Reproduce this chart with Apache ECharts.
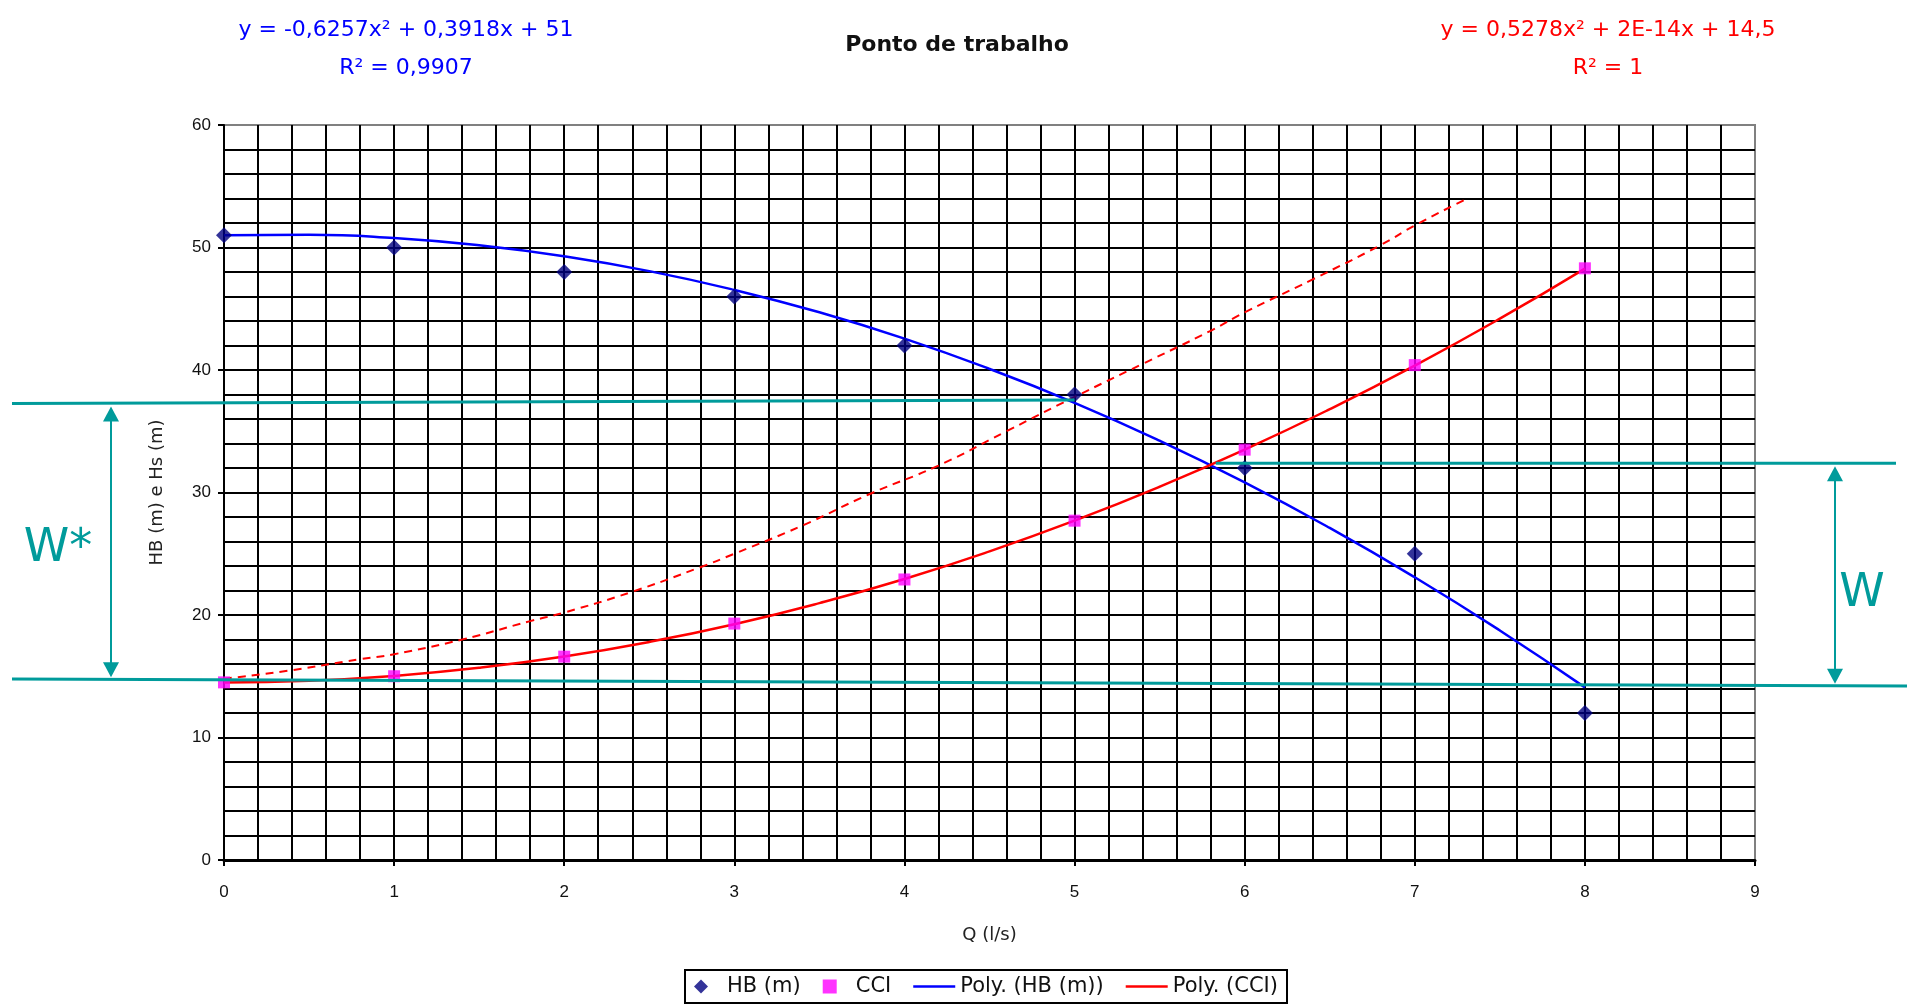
<!DOCTYPE html>
<html><head><meta charset="utf-8">
<script src="https://cdn.jsdelivr.net/npm/echarts@6/dist/echarts.min.js"></script>
<style>html,body{margin:0;padding:0;background:#fff;}#c{width:1907px;height:1004px;}</style>
</head><body><div id="c"></div>
<script>
// ---- data ----
const Q_POINTS = [0, 1, 2, 3, 4, 5, 6, 7, 8];
const HB_VALUES = [51, 50, 48, 46, 42, 38, 32, 25, 12];
const CCI_VALUES = [14.5, 15.0, 16.6, 19.3, 22.9, 27.7, 33.5, 40.4, 48.3];

const TREND_Q = [0, 0.5, 1, 1.5, 2, 2.5, 3, 3.5, 4, 4.5, 5, 5.5, 6, 6.5, 7, 7.5, 8];
const TREND_HB = [51.0, 51.04, 50.77, 50.18, 49.28, 48.07, 46.54, 44.71, 42.56, 40.09, 37.32, 34.23, 30.83, 27.11, 23.08, 18.74, 14.09];
const TREND_CCI = [14.5, 14.63, 15.03, 15.69, 16.61, 17.8, 19.25, 20.97, 22.94, 25.19, 27.7, 30.47, 33.5, 36.8, 40.36, 44.19, 48.28];

const DASH_Q = [0, 0.4, 0.8, 1.0, 1.4, 1.8, 2.0, 2.4, 2.8, 3.0, 3.4, 3.8, 4.2, 4.6, 5.0, 5.4, 5.8, 6.0, 6.4, 6.8, 7.0, 7.31];
const DASH_H = [14.8, 15.5, 16.4, 16.8, 18.0, 19.5, 20.2, 21.9, 23.9, 25.0, 27.3, 29.9, 32.2, 35.0, 37.8, 40.5, 43.2, 44.7, 47.4, 50.2, 51.8, 54.0];

const X_TICKS = [0, 1, 2, 3, 4, 5, 6, 7, 8, 9];
const Y_TICKS = [0, 10, 20, 30, 40, 50, 60];

// annotation levels (teal W* / W markers)
const WSTAR_TOP_LEFT = 37.27, WSTAR_TOP_RIGHT = 37.55, WSTAR_END_Q = 5.0;
const BASE_LEFT = 14.78, BASE_RIGHT = 14.2;
const W_TOP = 32.38, W_START_Q = 5.83;

const TITLE = 'Ponto de trabalho';
const EQ_HB = ['y = -0,6257x² + 0,3918x + 51', 'R² = 0,9907'];
const EQ_CCI = ['y = 0,5278x² + 2E-14x + 14,5', 'R² = 1'];

const pairs = (xs, ys) => xs.map((x, i) => [x, ys[i]]);

const chart = echarts.init(document.getElementById('c'));
const TEAL = '#009b9b';
const FONT = 'DejaVu Sans';
const LINE_ICON = 'path://M0,0H16V1H0Z';

chart.setOption({
  animation: false,
  backgroundColor: '#fff',
  title: [
    {text: TITLE, left: 952, top: 29, textAlign: 'center',
      textStyle: {fontFamily: FONT, fontSize: 22, fontWeight: 'bold', color: '#111'}},
    {text: EQ_HB.join('\n'), left: 401, top: 6, textAlign: 'center',
      textStyle: {fontFamily: FONT, fontSize: 22, fontWeight: 'normal', color: '#0000ff', lineHeight: 38}},
    {text: EQ_CCI.join('\n'), left: 1603, top: 6, textAlign: 'center',
      textStyle: {fontFamily: FONT, fontSize: 22, fontWeight: 'normal', color: '#ff0000', lineHeight: 38}}
  ],
  grid: {left: 224, right: 152, top: 125, bottom: 144, show: true, borderColor: '#808080', borderWidth: 2, backgroundColor: '#fff'},
  xAxis: {
    type: 'value', min: X_TICKS[0], max: X_TICKS[X_TICKS.length - 1], interval: 1,
    name: 'Q (l/s)', nameLocation: 'middle', nameGap: 66,
    nameTextStyle: {fontFamily: FONT, fontSize: 18, color: '#222'},
    axisLine: {show: true, onZero: false, lineStyle: {color: '#000', width: 3}},
    axisTick: {show: true, length: 6, lineStyle: {color: '#000', width: 2}},
    axisLabel: {margin: 24, fontFamily: 'Liberation Sans', fontSize: 17, color: '#111'},
    splitLine: {show: true, showMinLine: false, showMaxLine: false, lineStyle: {color: '#000', width: 2}},
    minorTick: {show: false, splitNumber: 5},
    minorSplitLine: {show: true, lineStyle: {color: '#000', width: 2}}
  },
  yAxis: {
    type: 'value', min: Y_TICKS[0], max: Y_TICKS[Y_TICKS.length - 1], interval: 10,
    name: 'HB (m) e Hs (m)', nameLocation: 'middle', nameGap: 58, nameRotate: 90,
    nameTextStyle: {fontFamily: FONT, fontSize: 18, color: '#222'},
    axisLine: {show: true, onZero: false, lineStyle: {color: '#000', width: 2}},
    axisTick: {show: true, length: 6, lineStyle: {color: '#000', width: 2}},
    axisLabel: {margin: 13, fontFamily: 'Liberation Sans', fontSize: 17, color: '#111'},
    splitLine: {show: true, showMinLine: false, showMaxLine: false, lineStyle: {color: '#000', width: 2}},
    minorTick: {show: false, splitNumber: 5},
    minorSplitLine: {show: true, lineStyle: {color: '#000', width: 2}}
  },
  legend: {
    left: 685, top: 970, orient: 'horizontal',
    borderColor: '#000', borderWidth: 2, padding: [6, 9, 6, 9], itemGap: 22,
    itemWidth: 42, itemHeight: 14, symbolKeepAspect: true,
    textStyle: {fontFamily: FONT, fontSize: 21, color: '#111'},
    data: [
      {name: 'HB (m)', icon: 'path://M0,-1L1,0L0,1L-1,0Z'},
      {name: 'CCI', icon: 'path://M0,0H1V1H0Z'},
      {name: 'Poly. (HB (m))', icon: LINE_ICON},
      {name: 'Poly. (CCI)', icon: LINE_ICON}
    ]
  },
  series: [
    {name: 'Poly. (HB (m))', type: 'line', data: pairs(TREND_Q, TREND_HB), symbol: 'none', smooth: true,
      lineStyle: {color: '#0000ff', width: 2.5}, itemStyle: {color: '#0000ff'}, z: 3},
    {name: 'Poly. (CCI)', type: 'line', data: pairs(TREND_Q, TREND_CCI), symbol: 'none', smooth: true,
      lineStyle: {color: '#ff0000', width: 2.5}, itemStyle: {color: '#ff0000'}, z: 3},
    {name: 'dashed', type: 'line', data: pairs(DASH_Q, DASH_H), symbol: 'none', smooth: true,
      lineStyle: {color: '#ff0000', width: 2, type: [8, 6]}, z: 3},
    {name: 'HB (m)', type: 'scatter', data: pairs(Q_POINTS, HB_VALUES), symbol: 'diamond', symbolSize: 16,
      itemStyle: {color: '#000080'}, z: 5},
    {name: 'CCI', type: 'scatter', data: pairs(Q_POINTS, CCI_VALUES), symbol: 'rect', symbolSize: 12,
      itemStyle: {color: '#ff00ff'}, z: 5}
  ]
});

// ---- teal annotations, positioned through the axes ----
const px = (q, h) => chart.convertToPixel({gridIndex: 0}, [q, h]);
const LEFT_EDGE = 12, RIGHT_EDGE = 1907, W_RIGHT_END = 1896, ARROW_L = 111, ARROW_R = 1835;
const yStarTopL = px(0, WSTAR_TOP_LEFT)[1];
const starEnd = px(WSTAR_END_Q, WSTAR_TOP_RIGHT);
const yBaseL = px(0, BASE_LEFT)[1];
const yBaseR = px(0, BASE_RIGHT)[1];
const wStart = px(W_START_Q, W_TOP);
const baseAt = (x) => yBaseL + (yBaseR - yBaseL) * (x - LEFT_EDGE) / (RIGHT_EDGE - LEFT_EDGE);

function arrow(x, y1, y2) {
  const h = 15, w = 8;
  return [
    {type: 'line', shape: {x1: x, y1: y1 + h, x2: x, y2: y2 - h}, style: {stroke: TEAL, lineWidth: 2}, z: 200},
    {type: 'polygon', shape: {points: [[x, y1 + 1], [x - w, y1 + h + 1], [x + w, y1 + h + 1]]}, style: {fill: TEAL}, z: 200},
    {type: 'polygon', shape: {points: [[x, y2 - 1], [x - w, y2 - h - 1], [x + w, y2 - h - 1]]}, style: {fill: TEAL}, z: 200}
  ];
}

chart.setOption({
  graphic: [
    {type: 'line', shape: {x1: LEFT_EDGE, y1: yStarTopL, x2: starEnd[0], y2: starEnd[1]}, style: {stroke: TEAL, lineWidth: 3}, z: 200},
    {type: 'line', shape: {x1: LEFT_EDGE, y1: yBaseL, x2: RIGHT_EDGE, y2: yBaseR}, style: {stroke: TEAL, lineWidth: 3}, z: 200},
    {type: 'line', shape: {x1: wStart[0], y1: wStart[1], x2: W_RIGHT_END, y2: wStart[1]}, style: {stroke: TEAL, lineWidth: 3}, z: 200},
    ...arrow(ARROW_L, yStarTopL + 2, baseAt(ARROW_L) - 1),
    ...arrow(ARROW_R, wStart[1] + 2, baseAt(ARROW_R) - 1),
    {type: 'text', x: 58, y: 549, style: {text: 'W*', fill: TEAL, font: '46px "DejaVu Sans"', align: 'center', verticalAlign: 'middle'}, z: 200},
    {type: 'text', x: 1862, y: 594, style: {text: 'W', fill: TEAL, font: '46px "DejaVu Sans"', align: 'center', verticalAlign: 'middle'}, z: 200}
  ]
});
</script>
</body></html>
